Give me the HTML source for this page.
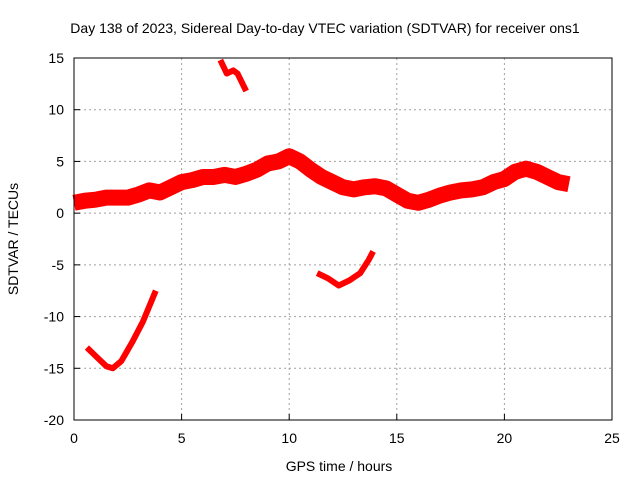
<!DOCTYPE html>
<html><head><meta charset="utf-8"><style>
body{margin:0;background:#fff}
svg{display:block}
text{font-family:"Liberation Sans",sans-serif;font-size:14px;fill:#000}
</style></head><body>
<svg id="chart" width="640" height="480">
<text x="325" y="33" text-anchor="middle">Day 138 of 2023, Sidereal Day-to-day VTEC variation (SDTVAR) for receiver ons1</text>
<g id="grid"></g><g id="series"></g><g id="axes"></g>
<text x="339" y="471" text-anchor="middle">GPS time / hours</text>
<text transform="translate(18,239) rotate(-90)" text-anchor="middle">SDTVAR / TECUs</text>
</svg>
<script>
const xTicks=[0,5,10,15,20,25];
const yTicks=[-20,-15,-10,-5,0,5,10,15];
const mainHours=[0,0.5,1,1.5,2,2.5,3,3.5,4,4.5,5,5.5,6,6.5,7,7.5,8,8.5,9,9.5,10,10.5,11,11.5,12,12.5,13,13.5,14,14.5,15,15.5,16,16.5,17,17.5,18,18.5,19,19.5,20,20.5,21,21.5,22,22.5,23];
const mainValues=[1,1.2,1.3,1.5,1.5,1.5,1.8,2.2,2.0,2.5,3,3.2,3.5,3.5,3.7,3.5,3.8,4.2,4.8,5,5.5,5,4.2,3.5,3,2.5,2.3,2.5,2.6,2.4,1.8,1.2,1,1.3,1.7,2,2.2,2.3,2.5,3,3.3,4,4.3,4,3.5,3,2.8];
const segAHours=[0.6,1,1.5,1.8,2.2,2.7,3.2,3.6,3.8];
const segAValues=[-13,-13.8,-14.8,-15,-14.3,-12.5,-10.5,-8.5,-7.5];
const segBHours=[6.8,7.1,7.4,7.6,8];
const segBValues=[14.8,13.5,13.8,13.5,11.8];
const segCHours=[11.3,11.8,12.3,12.8,13.3,13.7,13.9];
const segCValues=[-5.8,-6.3,-7,-6.5,-5.8,-4.5,-3.7];
const L=74,R=612,T=58,B=420;
const xs=v=>L+(v-0)/25*(R-L);
const ys=v=>B-(v+20)/35*(B-T);
const NS="http://www.w3.org/2000/svg";
function mk(t,a,p){const e=document.createElementNS(NS,t);for(const k in a)e.setAttribute(k,a[k]);p.appendChild(e);return e;}
const grid=document.getElementById('grid'),axes=document.getElementById('axes'),ser=document.getElementById('series');
xTicks.forEach(t=>{const x=xs(t);
 if(t>0&&t<25){const g=mk('line',{x1:x,x2:x,y1:T,y2:B,stroke:'#a0a0a0','stroke-dasharray':'2,3'},grid);
 }
 const tk=mk('line',{x1:x,x2:x,y1:B,y2:B-6,stroke:'#000'},axes);
 
 const lb=mk('text',{x:x,y:B+23,'text-anchor':'middle'},axes);lb.textContent=t;
 });
yTicks.forEach(t=>{const y=ys(t);
 if(t>-20&&t<15){const g=mk('line',{x1:L,x2:R,y1:y,y2:y,stroke:'#a0a0a0','stroke-dasharray':'2,3'},grid);
 }
 const tk=mk('line',{x1:L,x2:L+6,y1:y,y2:y,stroke:'#000'},axes);
 
 const lb=mk('text',{x:L-10,y:y+5,'text-anchor':'end'},axes);lb.textContent=t;
 });
const fr=mk('rect',{x:L,y:T,width:R-L,height:B-T,fill:'none',stroke:'#000'},axes);

function line(h,v,w,name){const pts=h.map((d,i)=>xs(d)+','+ys(v[i])).join(' ');
 const p=mk('polyline',{points:pts,fill:'none',stroke:'#ff0000','stroke-width':w,'stroke-linejoin':'round','stroke-linecap':'butt'},ser);
 }
line(mainHours,mainValues,16,'main-series-band');
line(segAHours,segAValues,6,'series-segment-a');
line(segBHours,segBValues,6,'series-segment-b');
line(segCHours,segCValues,6,'series-segment-c');
</script>
</body></html>
